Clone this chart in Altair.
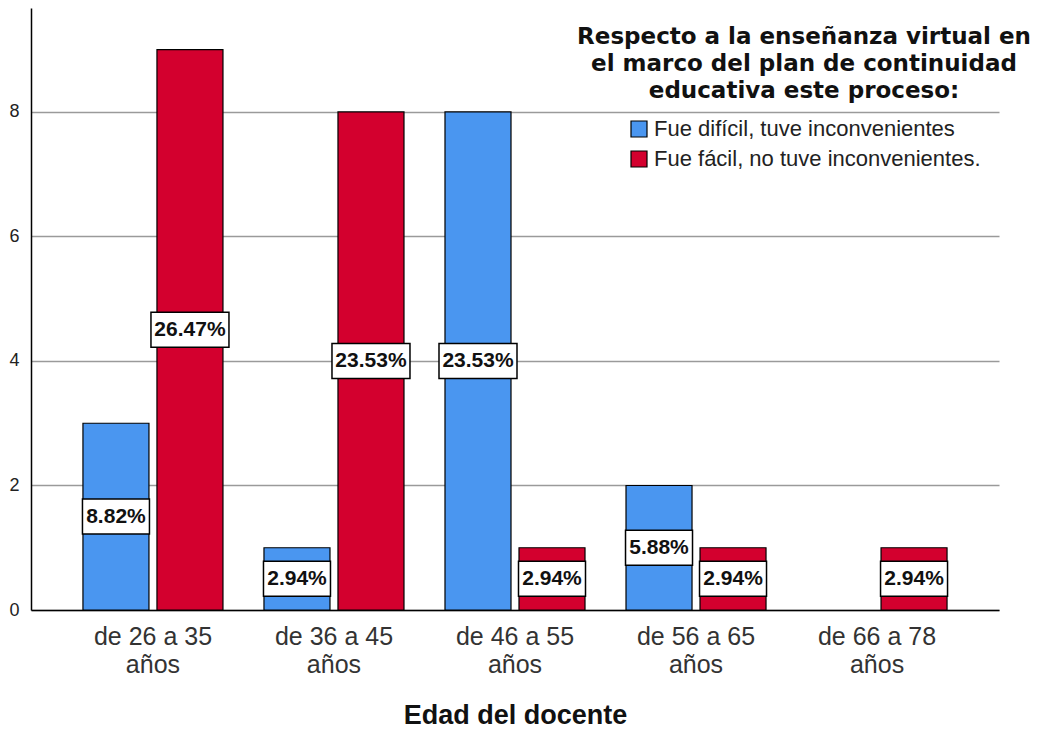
import altair as alt
import pandas as pd

categories = ["de 26 a 35 años", "de 36 a 45 años", "de 46 a 55 años", "de 56 a 65 años", "de 66 a 78 años"]
series = ["Fue difícil, tuve inconvenientes", "Fue fácil, no tuve inconvenientes."]
dificil = [3, 1, 8, 2, 0]
facil = [9, 8, 1, 1, 1]
pct_dificil = ["8.82%", "2.94%", "23.53%", "5.88%", ""]
pct_facil = ["26.47%", "23.53%", "2.94%", "2.94%", "2.94%"]
colors = ["#4A96F0", "#D3002E"]

rows = []
for i, c in enumerate(categories):
    rows.append({"edad": c, "serie": series[0], "n": dificil[i], "lab": pct_dificil[i]})
    rows.append({"edad": c, "serie": series[1], "n": facil[i], "lab": pct_facil[i]})
df = pd.DataFrame(rows)
df = df[df["n"] > 0]

FONT = "Liberation Sans"

x = alt.X("edad:N", sort=categories,
          scale=alt.Scale(paddingInner=0.2265, paddingOuter=0.287),
          axis=alt.Axis(title="Edad del docente", labelAngle=0, ticks=False,
                        domainColor="black", domainWidth=1.5,
                        labelFont=FONT, labelFontSize=25, labelColor="#333333",
                        labelLineHeight=28, labelPadding=14,
                        labelExpr="split(replace(datum.label, ' años', '|años'), '|')",
                        titleFont=FONT, titleFontSize=27, titleFontWeight="bold",
                        titleColor="#111111", titlePadding=25))
xo = alt.XOffset("serie:N", sort=series, scale=alt.Scale(paddingInner=0.108, paddingOuter=0))

base = alt.Chart(df)

bars = base.mark_bar(stroke="black", strokeWidth=1.2).encode(
    x=x, xOffset=xo,
    y=alt.Y("n:Q", scale=alt.Scale(domain=[0, 9.67], nice=False),
            axis=alt.Axis(title=None, values=[0, 2, 4, 6, 8], format="d", ticks=False,
                          domainColor="black", domainWidth=1.5,
                          gridColor="#9a9a9a", gridWidth=1.5,
                          labelFont=FONT, labelFontSize=18, labelColor="#222222",
                          labelPadding=12)),
    color=alt.Color("serie:N", sort=series,
                    scale=alt.Scale(domain=series, range=colors),
                    legend=alt.Legend(
                        title=["Respecto a la enseñanza virtual en",
                               "el marco del plan de continuidad",
                               "educativa este proceso:"],
                        orient="none", legendX=546, legendY=18,
                        titleAnchor="middle", titleAlign="center",
                        titleFont="DejaVu Sans", titleFontSize=23, titleFontWeight="bold",
                        titleColor="#111111", titleLineHeight=27, titlePadding=15,
                        titleLimit=700,
                        labelFont=FONT, labelFontSize=22, labelColor="#222222",
                        labelLimit=500, labelOffset=4,
                        symbolType="square", symbolSize=256, symbolStrokeColor="black",
                        symbolStrokeWidth=1.2, symbolOpacity=1,
                        rowPadding=8)),
)

boxes = base.transform_calculate(mid="datum.n / 2").mark_tick(
    thickness=35, fill="white", stroke="black", strokeWidth=1.5, opacity=1
).encode(
    x=x, xOffset=xo,
    y=alt.Y("mid:Q"),
    size=alt.condition("length(datum.lab) > 5", alt.value(78), alt.value(67)),
)

texts = base.transform_calculate(mid="datum.n / 2").mark_text(
    font=FONT, fontSize=21, fontWeight="bold", color="#111111", baseline="middle"
).encode(
    x=x, xOffset=xo,
    y=alt.Y("mid:Q"),
    text="lab:N",
)

chart = alt.layer(bars, boxes, texts).properties(
    width=968, height=602, padding={"left": 0, "top": 0, "right": 0, "bottom": 0}
).configure_view(stroke=None)

chart.save("out.html", embed_options={"renderer": "svg", "actions": False})
